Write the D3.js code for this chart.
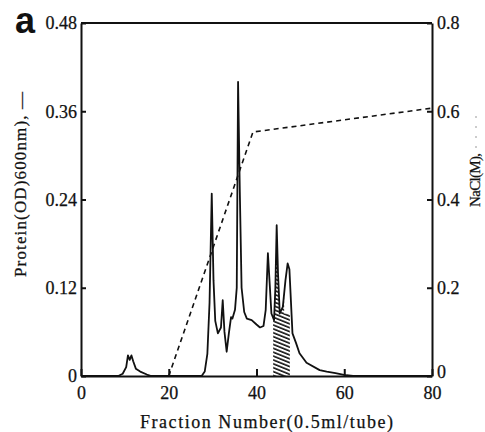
<!DOCTYPE html>
<html>
<head>
<meta charset="utf-8">
<script src="https://cdn.jsdelivr.net/npm/d3@7"></script>
<style>
  body { margin: 0; background: #fff; }
  .axis text { font-family: "Liberation Serif", "Times New Roman", serif; font-size: 18px; fill: #111; stroke: #111; stroke-width: 0.25; }
  .axis path, .axis line { stroke: #111; stroke-width: 2; }
  .lbl { font-family: "Liberation Serif", "Times New Roman", serif; fill: #111; stroke: #111; stroke-width: 0.25; }
</style>
</head>
<body>
<div class="chartcontainer"></div>
<script>
// protein elution profile (fraction number, OD600)
const fractions = [0, 8.5, 9.5, 10.3, 10.7, 11.1, 11.5, 11.9, 12.5, 13.5, 15, 16,
  27.5, 28.2, 28.8, 29.3, 29.8, 30.2, 30.6, 31.2, 31.9, 32.3, 32.7, 33.2, 33.7, 34.2, 34.5, 35.1, 35.5, 35.8,
  36.2, 36.6, 37.2, 37.8, 38.9, 40.0, 40.8, 41.6, 42.1, 42.6, 43.0, 43.4, 44.0, 44.3, 44.6, 44.9, 45.3, 46.0,
  46.6, 47.1, 47.5, 48.2, 49.0, 49.8, 51.4, 54.4, 56, 58, 60.5, 62, 80]
const protein = [0, 0, 0.003, 0.012, 0.028, 0.022, 0.028, 0.02, 0.01, 0.006, 0.002, 0,
  0, 0.006, 0.03, 0.1, 0.248, 0.13, 0.075, 0.058, 0.066, 0.103, 0.06, 0.033, 0.058, 0.08, 0.078, 0.09, 0.12, 0.40,
  0.25, 0.12, 0.087, 0.078, 0.076, 0.07, 0.066, 0.068, 0.09, 0.167, 0.126, 0.085, 0.076, 0.12, 0.205, 0.14, 0.085, 0.094,
  0.13, 0.153, 0.145, 0.058, 0.045, 0.031, 0.018, 0.008, 0.006, 0.004, 0.001, 0, 0]

// NaCl gradient
const naclFractions = [20, 39.2, 80]
const nacl = [0, 0.553, 0.607]

// pooled (hatched) fractions: peak column and the wider base below it
const hatchRange = [44.0, 46.3]
const hatchBase = [43.8, 47.6]
const hatchBaseTop = 0.085

const xTicks = [0, 20, 40, 60, 80]
const proteinTicks = [0, 0.12, 0.24, 0.36, 0.48]
const naclTicks = [0, 0.2, 0.4, 0.6, 0.8]

const w = 485
const h = 432
const padL = 81, padR = 432, padT = 23, padB = 376

const xScale = d3.scaleLinear().domain([0, 80]).range([padL, padR])
const yScale = d3.scaleLinear().domain([0, 0.48]).range([padB, padT])
const y2Scale = d3.scaleLinear().domain([0, 0.8]).range([padB, padT])

const svg = d3.select('.chartcontainer')
    .append('svg')
    .attr('width', w)
    .attr('height', h)

const defs = svg.append('defs')
const pat = defs.append('pattern')
    .attr('id', 'hatch')
    .attr('patternUnits', 'userSpaceOnUse')
    .attr('width', 10)
    .attr('height', 3.6)
    .attr('patternTransform', 'rotate(22)')
pat.append('rect').attr('width', 10).attr('height', 3.6).attr('fill', '#fff')
pat.append('line')
    .attr('x1', 0).attr('y1', 1).attr('x2', 10).attr('y2', 1)
    .attr('stroke', '#111').attr('stroke-width', 1.6)

const clip = defs.append('clipPath').attr('id', 'hclip')
clip.append('rect')
    .attr('x', xScale(hatchRange[0]))
    .attr('y', padT)
    .attr('width', xScale(hatchRange[1]) - xScale(hatchRange[0]))
    .attr('height', padB - padT)
clip.append('rect')
    .attr('x', xScale(hatchBase[0]))
    .attr('y', yScale(hatchBaseTop))
    .attr('width', xScale(hatchBase[1]) - xScale(hatchBase[0]))
    .attr('height', padB - yScale(hatchBaseTop))

const pdata = fractions.map((f, i) => [f, protein[i]])

// hatched area
svg.append('path')
    .datum(pdata)
    .attr('clip-path', 'url(#hclip)')
    .attr('fill', 'url(#hatch)')
    .attr('d', d3.area().x(d => xScale(d[0])).y0(padB).y1(d => yScale(d[1])))

// protein line
svg.append('path')
    .datum(pdata)
    .attr('fill', 'none')
    .attr('stroke', '#111')
    .attr('stroke-width', 1.8)
    .attr('stroke-linejoin', 'round')
    .attr('d', d3.line().x(d => xScale(d[0])).y(d => yScale(d[1])))

// NaCl dashed line
svg.append('path')
    .datum(naclFractions.map((f, i) => [f, nacl[i]]))
    .attr('fill', 'none')
    .attr('stroke', '#111')
    .attr('stroke-width', 1.6)
    .attr('stroke-dasharray', '5,4')
    .attr('d', d3.line().x(d => xScale(d[0])).y(d => y2Scale(d[1])))

// frame top
svg.append('line')
    .attr('x1', padL).attr('x2', padR).attr('y1', padT).attr('y2', padT)
    .attr('stroke', '#111').attr('stroke-width', 2)

const xAxis = d3.axisBottom(xScale).tickValues(xTicks).tickSizeInner(-7).tickSizeOuter(0).tickPadding(10)
    .tickFormat(d3.format('d'))
const yAxis = d3.axisLeft(yScale).tickValues(proteinTicks).tickSizeInner(-5).tickSizeOuter(0).tickPadding(4)
    .tickFormat(d => d === 0 ? '0' : d3.format('.2f')(d))
const y2Axis = d3.axisRight(y2Scale).tickValues(naclTicks).tickSizeInner(-5).tickSizeOuter(0).tickPadding(5)
    .tickFormat(d => d === 0 ? '0' : d3.format('.1f')(d))

svg.append('g').attr('class', 'axis')
    .attr('transform', 'translate(0,' + padB + ')')
    .call(xAxis)
svg.append('g').attr('class', 'axis')
    .attr('transform', 'translate(' + padL + ',0)')
    .call(yAxis)
const g2 = svg.append('g').attr('class', 'axis')
    .attr('transform', 'translate(' + padR + ',0)')
    .call(y2Axis)
// the right-hand zero sits a little higher, clear of the "80"
g2.selectAll('.tick text').filter(d => d === 0).attr('dy', '0.1em')

// labels
svg.append('text')
    .attr('class', 'lbl')
    .text('Fraction Number(0.5ml/tube)')
    .attr('x', 140)
    .attr('y', 428)
    .attr('font-size', 18)
    .attr('textLength', 253)
    .attr('lengthAdjust', 'spacing')

svg.append('text')
    .attr('class', 'lbl')
    .text('Protein(OD)600nm), \u2014')
    .attr('transform', 'translate(26,277) rotate(-90)')
    .attr('font-size', 17)
    .attr('textLength', 185)
    .attr('lengthAdjust', 'spacing')

svg.append('text')
    .attr('class', 'lbl')
    .text('NaCl(M),')
    .attr('transform', 'translate(480,207) rotate(-90)')
    .attr('font-size', 15)
    .attr('textLength', 54)
    .attr('lengthAdjust', 'spacing')

svg.append('line')
    .attr('x1', 476).attr('x2', 476).attr('y1', 148).attr('y2', 108)
    .attr('stroke', '#999').attr('stroke-width', 1).attr('stroke-dasharray', '2,8')

svg.append('text')
    .text('a')
    .attr('x', 15)
    .attr('y', 33)
    .attr('font-family', '"Liberation Sans", Arial, sans-serif')
    .attr('font-weight', 'bold')
    .attr('font-size', 36)
    .attr('fill', '#111')
</script>
</body>
</html>
